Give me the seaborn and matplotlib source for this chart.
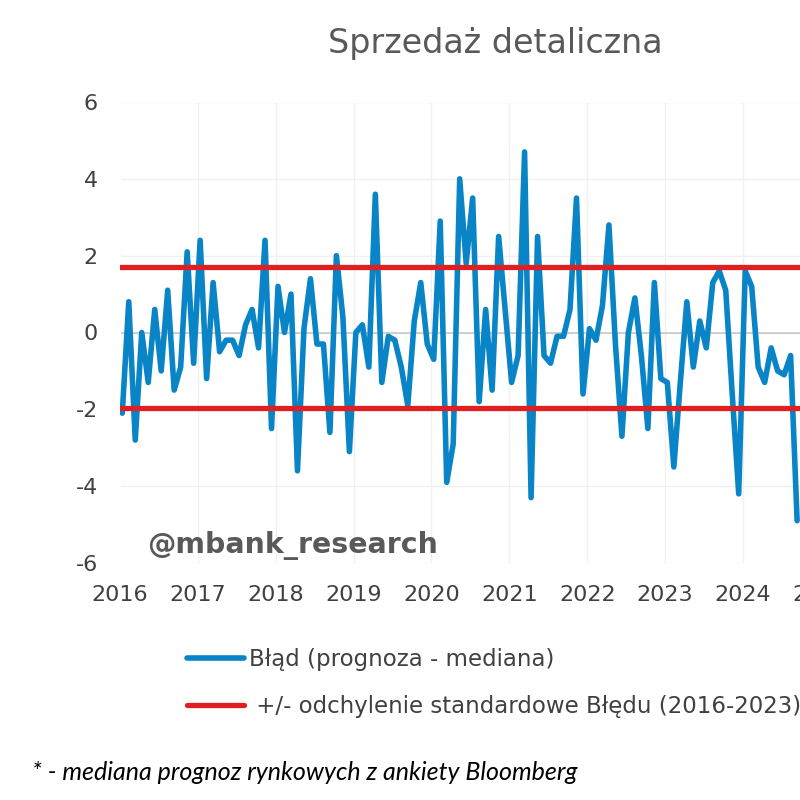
import matplotlib.pyplot as plt
import pandas as pd
import seaborn as sns

# Monthly forecast error (actual - Bloomberg median), Jan 2016 onwards
errors = [
    -2.1, 0.8, -2.8, 0.0, -1.3, 0.6, -1.0, 1.1, -1.5, -0.9, 2.1, -0.8,   # 2016
    2.4, -1.2, 1.3, -0.5, -0.2, -0.2, -0.6, 0.2, 0.6, -0.4, 2.4, -2.5,   # 2017
    1.2, 0.0, 1.0, -3.6, 0.1, 1.4, -0.3, -0.3, -2.6, 2.0, 0.4, -3.1,     # 2018
    0.0, 0.2, -0.9, 3.6, -1.3, -0.1, -0.2, -0.9, -1.9, 0.3, 1.3, -0.3,   # 2019
    -0.7, 2.9, -3.9, -2.9, 4.0, 1.8, 3.5, -1.8, 0.6, -1.5, 2.5, 0.6,     # 2020
    -1.3, -0.6, 4.7, -4.3, 2.5, -0.6, -0.8, -0.1, -0.1, 0.6, 3.5, -1.6,  # 2021
    0.1, -0.2, 0.7, 2.8, -0.3, -2.7, 0.0, 0.9, -0.6, -2.5, 1.3, -1.2,    # 2022
    -1.3, -3.5, -1.3, 0.8, -0.9, 0.3, -0.4, 1.3, 1.6, 1.1, -1.6, -4.2,   # 2023
    1.6, 1.2, -0.9, -1.3, -0.4, -1.0, -1.1, -0.6, -4.9,                  # 2024
]
std_upper = 1.71
std_lower = -1.96
year_ticks = [2016, 2017, 2018, 2019, 2020, 2021, 2022, 2023, 2024, 2025]
y_ticks = [-6, -4, -2, 0, 2, 4, 6]

df = pd.DataFrame({"t": [2016 + (i + 0.35) / 12 for i in range(len(errors))],
                   "err": errors})

blue = "#0884C7"
red = "#E01F20"
grey = "#595959"

sns.set_style("whitegrid", {"grid.color": "#F0F0F0", "axes.edgecolor": "white"})
plt.rcParams["font.family"] = ["DejaVu Sans"]

fig = plt.figure(figsize=(8, 8), dpi=100)
ax = fig.add_axes([0.15, 0.29625, 0.876, 0.57625])

ax.axhline(0, color="#C8C8C8", linewidth=1.2, zorder=1)
sns.lineplot(data=df, x="t", y="err", ax=ax, color=blue, linewidth=4,
             label="Błąd (prognoza - mediana)", zorder=3)
ax.axhline(std_upper, color=red, linewidth=3.8, zorder=4,
           label=" +/- odchylenie standardowe Błędu (2016-2023)")
ax.axhline(std_lower, color=red, linewidth=3.8, zorder=4)

ax.set_xlim(2016, 2025)
ax.set_ylim(-6, 6)
ax.set_xticks(year_ticks)
ax.set_xticklabels([str(y) for y in year_ticks])
ax.set_yticks(y_ticks)
ax.set_yticklabels([str(v) for v in y_ticks])
ax.tick_params(axis="both", length=0, labelsize=16, labelcolor="#404040", pad=16)
ax.set(xlabel="", ylabel="")
ax.grid(True, color="#F0F0F0", linewidth=1)

ax.get_legend().remove()
handles, labels = ax.get_legend_handles_labels()
fig.legend(handles, labels, loc="upper left", bbox_to_anchor=(187 / 800, 1 - 648 / 800),
           frameon=False, fontsize=16.5, handlelength=2.5, handletextpad=0.2,
           borderpad=0, borderaxespad=0, labelspacing=1.05, labelcolor="#404040")

fig.text(0.619, 1 - 44 / 800, "Sprzedaż detaliczna", ha="center", va="center",
         fontsize=24, color=grey)
fig.text(147 / 800, 1 - 545 / 800, "@mbank_research", ha="left", va="center",
         fontsize=20.4, fontweight="bold", color=grey)
fig.text(32 / 800, 1 - 772 / 800, "* - mediana prognoz rynkowych z ankiety Bloomberg",
         ha="left", va="center", fontsize=18, style="italic", color="black",
         family=["Lato", "DejaVu Sans"])

fig.savefig("out.png", dpi=100)
